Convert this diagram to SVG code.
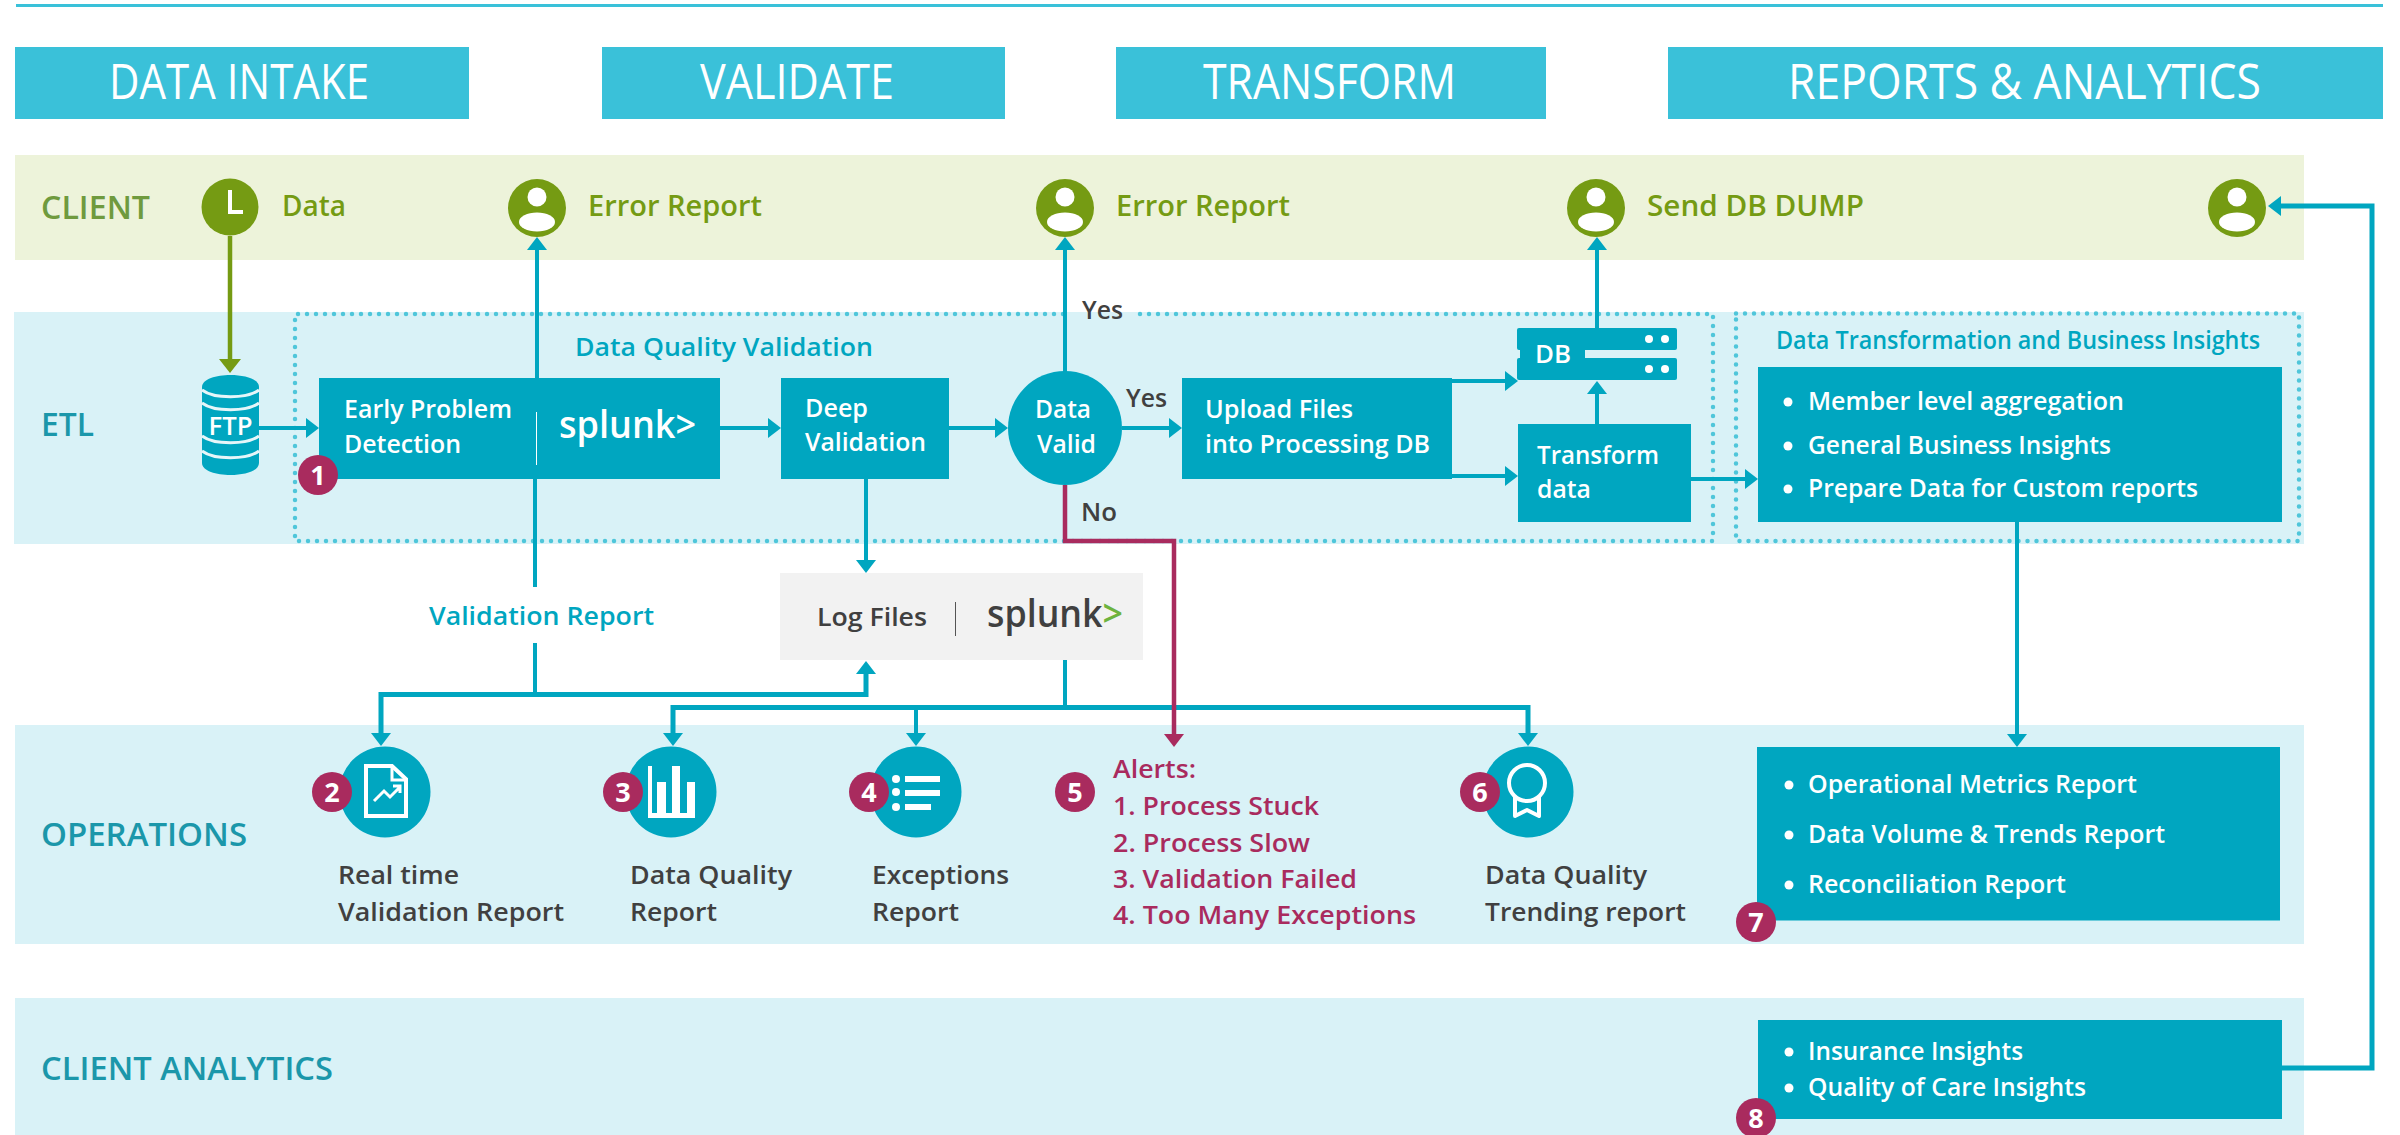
<svg xmlns="http://www.w3.org/2000/svg" width="2400" height="1135" viewBox="0 0 2400 1135">
<style>
text{font-family:"Open Sans","Noto Sans","Liberation Sans",sans-serif;font-weight:600}
.hd{fill:#3ac1d9}.hdt{fill:#fff;font-size:50px;font-weight:400}
.lab{font-size:32px;fill:#1b97aa}
.gl{font-size:29px;fill:#759b13}
.box{fill:#00a6c0}
.w{font-size:25px;fill:#fff}
.b{font-size:25px;fill:#fff}
.bul{fill:#fff}
.dk{font-size:25px;fill:#404040}
.ye{font-size:25px;fill:#404040}
.tl{font-size:26px;fill:#00a6c0}
.al{font-size:25px;fill:#a92b5e}
.bd{fill:#a92b5e}
.bn{font-size:27px;font-weight:700;fill:#fff;text-anchor:middle}
.sp{font-size:38px;font-weight:600}
.c{fill:none;stroke:#00a6c0;stroke-width:4}
.c5{fill:none;stroke:#00a6c0;stroke-width:5}
.dot{fill:none;stroke:#4fc6da;stroke-width:4.5;stroke-linecap:round;stroke-dasharray:0 9}
.ic{fill:none;stroke:#fff;stroke-width:4}
</style>
<defs>
<marker id="aT" markerUnits="userSpaceOnUse" markerWidth="14" markerHeight="20" refX="3" refY="10" orient="auto"><path d="M0 0L13 10L0 20Z" fill="#00a6c0"/></marker>
<marker id="aG" markerUnits="userSpaceOnUse" markerWidth="14" markerHeight="22" refX="3" refY="11" orient="auto"><path d="M0 0L14 11L0 22Z" fill="#759b13"/></marker>
<marker id="aR" markerUnits="userSpaceOnUse" markerWidth="14" markerHeight="20" refX="3" refY="10" orient="auto"><path d="M0 0L13 10L0 20Z" fill="#a92b5e"/></marker>
<g id="person"><circle r="29" fill="#759b13"/><circle cy="-11" r="9.500" fill="#fff"/><ellipse cy="14" rx="18" ry="9.500" fill="#fff"/></g>
</defs>

<rect x="16" y="4" width="2367" height="3" fill="#3ac1d9"/>

<g id="header-data-intake"><rect class="hd" x="15" y="47" width="454" height="72"/><text class="hdt" x="109" y="99" textLength="260" lengthAdjust="spacingAndGlyphs">DATA INTAKE</text></g>
<g id="header-validate"><rect class="hd" x="602" y="47" width="403" height="72"/><text class="hdt" x="700" y="99" textLength="194" lengthAdjust="spacingAndGlyphs">VALIDATE</text></g>
<g id="header-transform"><rect class="hd" x="1116" y="47" width="430" height="72"/><text class="hdt" x="1203" y="99" textLength="253" lengthAdjust="spacingAndGlyphs">TRANSFORM</text></g>
<g id="header-reports"><rect class="hd" x="1668" y="47" width="715" height="72"/><text class="hdt" x="1788" y="99" textLength="473" lengthAdjust="spacingAndGlyphs">REPORTS &amp; ANALYTICS</text></g>

<g id="band-client"><rect x="15" y="155" width="2289" height="105" fill="#edf3da"/><text class="lab" x="41" y="219" style="fill:#6f9a3e" textLength="109" lengthAdjust="spacingAndGlyphs">CLIENT</text></g>
<g id="band-etl"><rect x="14" y="312" width="2290" height="232" fill="#d9f2f7"/><text class="lab" x="41" y="436" textLength="53" lengthAdjust="spacingAndGlyphs">ETL</text></g>
<g id="band-operations"><rect x="15" y="725" width="2289" height="219" fill="#d9f2f7"/><text class="lab" x="41" y="846" textLength="206" lengthAdjust="spacingAndGlyphs">OPERATIONS</text></g>
<g id="band-client-analytics"><rect x="15" y="998" width="2289" height="137" fill="#d9f2f7"/><text class="lab" x="41" y="1080" textLength="292" lengthAdjust="spacingAndGlyphs">CLIENT ANALYTICS</text></g>

<g id="group-dq"><path class="dot" d="M1140 314H1713V541H295V314H1065"/><text class="tl" x="575" y="356" textLength="298" lengthAdjust="spacingAndGlyphs">Data Quality Validation</text></g>
<g id="group-dt"><path class="dot" d="M1736 313.500H2299V541H1736Z"/><text class="tl" x="1776" y="349" textLength="484" lengthAdjust="spacingAndGlyphs">Data Transformation and Business Insights</text></g>

<g id="connectors">
<path d="M230 236V362" fill="none" stroke="#759b13" stroke-width="4.500" marker-end="url(#aG)"/>
<path class="c" d="M259 428H309" marker-end="url(#aT)"/>
<path class="c" d="M537 378V247" marker-end="url(#aT)"/>
<path class="c" d="M720 428H771" marker-end="url(#aT)"/>
<path class="c" d="M949 428H998" marker-end="url(#aT)"/>
<path class="c" d="M1065 372V247" marker-end="url(#aT)"/>
<path class="c" d="M1122 428H1172" marker-end="url(#aT)"/>
<path class="c" d="M1452 381H1508" marker-end="url(#aT)"/>
<path class="c" d="M1452 476H1508" marker-end="url(#aT)"/>
<path class="c" d="M1597 424V391" marker-end="url(#aT)"/>
<path class="c" d="M1597 328V247" marker-end="url(#aT)"/>
<path class="c" d="M1691 479H1748" marker-end="url(#aT)"/>
<path class="c" d="M866 479V563" marker-end="url(#aT)"/>
<path class="c" d="M535 479V587"/>
<path class="c" d="M535 643V695"/>
<path class="c5" d="M535 694.500H381V736" marker-end="url(#aT)"/>
<path class="c5" d="M535 694.500H866V671" marker-end="url(#aT)"/>
<path class="c" d="M1065 660V707"/>
<path class="c5" d="M1065 707.500H673V736" marker-end="url(#aT)"/>
<path class="c5" d="M1065 707.500H1528V736" marker-end="url(#aT)"/>
<path class="c" d="M916 707V736" marker-end="url(#aT)"/>
<path d="M1065 485V541H1174V737" fill="none" stroke="#a92b5e" stroke-width="4.500" marker-end="url(#aR)"/>
<path class="c" d="M2017 522V737" marker-end="url(#aT)"/>
<path class="c5" d="M2282 1068H2372V206H2278" marker-end="url(#aT)"/>
</g>

<g id="clock"><circle cx="230" cy="207" r="28.500" fill="#759b13"/><path d="M230 190V212H243" fill="none" stroke="#fff" stroke-width="4"/></g>
<g id="data-label"><text class="gl" x="282" y="216" textLength="64" lengthAdjust="spacingAndGlyphs">Data</text></g>
<g id="client-1"><use href="#person" x="537" y="208"/><text class="gl" x="588" y="216" textLength="174" lengthAdjust="spacingAndGlyphs">Error Report</text></g>
<g id="client-2"><use href="#person" x="1065" y="208"/><text class="gl" x="1116" y="216" textLength="174" lengthAdjust="spacingAndGlyphs">Error Report</text></g>
<g id="client-3"><use href="#person" x="1596" y="208"/><text class="gl" x="1647" y="216" textLength="217" lengthAdjust="spacingAndGlyphs">Send DB DUMP</text></g>
<g id="client-4"><use href="#person" x="2237" y="208"/></g>

<g id="ftp">
<path class="box" d="M202 387C202 371 259 371 259 387V463C259 479 202 479 202 463Z"/>
<path d="M202 390C214 399 247 399 259 390M202 403C214 412 247 412 259 403M202 436C214 445 247 445 259 436M202 451C214 460 247 460 259 451" fill="none" stroke="#e6f6f9" stroke-width="3"/>
<text x="230.500" y="435" font-size="26" fill="#fff" text-anchor="middle" textLength="44" lengthAdjust="spacingAndGlyphs">FTP</text>
</g>

<g id="early"><rect class="box" x="319" y="378" width="401" height="101"/>
<text class="w" x="344" y="418" textLength="168" lengthAdjust="spacingAndGlyphs">Early Problem</text><text class="w" x="344" y="453" textLength="117" lengthAdjust="spacingAndGlyphs">Detection</text>
<rect x="536" y="412" width="1" height="53" fill="#fff"/>
<text class="sp" x="559" y="438" fill="#fff" textLength="137" lengthAdjust="spacingAndGlyphs">splunk&gt;</text></g>
<g id="deep"><rect class="box" x="781" y="378" width="168" height="101"/><text class="w" x="805" y="417" textLength="63" lengthAdjust="spacingAndGlyphs">Deep</text><text class="w" x="805" y="451" textLength="121" lengthAdjust="spacingAndGlyphs">Validation</text></g>
<g id="valid"><circle class="box" cx="1065" cy="428" r="57"/><text class="w" x="1035" y="418" textLength="56" lengthAdjust="spacingAndGlyphs">Data</text><text class="w" x="1037" y="453" textLength="59" lengthAdjust="spacingAndGlyphs">Valid</text></g>
<g id="yes-labels"><text class="ye" x="1082" y="319" textLength="41" lengthAdjust="spacingAndGlyphs">Yes</text><text class="ye" x="1126" y="407" textLength="41" lengthAdjust="spacingAndGlyphs">Yes</text><text class="ye" x="1081" y="521" textLength="36" lengthAdjust="spacingAndGlyphs">No</text></g>
<g id="upload"><rect class="box" x="1182" y="378" width="270" height="101"/><text class="w" x="1205" y="418" textLength="148" lengthAdjust="spacingAndGlyphs">Upload Files</text><text class="w" x="1205" y="453" textLength="225" lengthAdjust="spacingAndGlyphs">into Processing DB</text></g>
<g id="db"><rect class="box" x="1517" y="328" width="160" height="22" rx="2"/><rect class="box" x="1517" y="358" width="160" height="22" rx="2"/><rect class="box" x="1520" y="345" width="65" height="20"/>
<g class="bul"><circle cx="1649" cy="339" r="4"/><circle cx="1665" cy="339" r="4"/><circle cx="1649" cy="369" r="4"/><circle cx="1665" cy="369" r="4"/></g>
<text x="1535" y="363" font-size="25" fill="#fff" textLength="36" lengthAdjust="spacingAndGlyphs">DB</text></g>
<g id="transform"><rect class="box" x="1518" y="424" width="173" height="98"/><text class="w" x="1537" y="464" textLength="122" lengthAdjust="spacingAndGlyphs">Transform</text><text class="w" x="1537" y="498" textLength="54" lengthAdjust="spacingAndGlyphs">data</text></g>
<g id="insights"><rect class="box" x="1758" y="367" width="524" height="155"/>
<g class="bul"><circle cx="1788" cy="402" r="4.500"/><circle cx="1788" cy="446" r="4.500"/><circle cx="1788" cy="489" r="4.500"/></g>
<text class="b" x="1808" y="410" textLength="316" lengthAdjust="spacingAndGlyphs">Member level aggregation</text><text class="b" x="1808" y="454" textLength="303" lengthAdjust="spacingAndGlyphs">General Business Insights</text><text class="b" x="1808" y="497" textLength="390" lengthAdjust="spacingAndGlyphs">Prepare Data for Custom reports</text></g>

<g id="validation-report"><text class="tl" x="429" y="625" textLength="225" lengthAdjust="spacingAndGlyphs">Validation Report</text></g>
<g id="logs"><rect x="780" y="573" width="363" height="87" fill="#f2f2f2"/><text class="dk" x="817" y="626" textLength="110" lengthAdjust="spacingAndGlyphs">Log Files</text><rect x="955" y="602" width="1" height="34" fill="#555"/>
<text class="sp" x="987" y="627" fill="#404040" textLength="136" lengthAdjust="spacingAndGlyphs">splunk<tspan fill="#6db33f">&gt;</tspan></text></g>

<g id="r2"><circle class="box" cx="385" cy="792" r="45.500"/>
<path class="ic" d="M366 766H392L406 779V816H366Z"/><path d="M392 766V780H406" fill="none" stroke="#fff" stroke-width="3"/><path d="M374 801L384 791L390 797L400 787M393 786H400V793" fill="none" stroke="#fff" stroke-width="3"/>
<circle class="bd" cx="332" cy="792" r="20"/><text class="bn" x="332" y="802">2</text>
<text class="dk" x="338" y="884" textLength="121" lengthAdjust="spacingAndGlyphs">Real time</text><text class="dk" x="338" y="921" textLength="226" lengthAdjust="spacingAndGlyphs">Validation Report</text></g>
<g id="r3"><circle class="box" cx="671" cy="792" r="45.500"/>
<g class="bul"><rect x="648" y="766" width="4" height="52"/><rect x="657" y="782" width="9" height="36"/><rect x="672" y="766" width="8" height="52"/><rect x="687" y="782" width="8" height="36"/><rect x="648" y="813" width="47" height="5"/></g>
<circle class="bd" cx="623" cy="792" r="20"/><text class="bn" x="623" y="802">3</text>
<text class="dk" x="630" y="884" textLength="162" lengthAdjust="spacingAndGlyphs">Data Quality</text><text class="dk" x="630" y="921" textLength="87" lengthAdjust="spacingAndGlyphs">Report</text></g>
<g id="r4"><circle class="box" cx="916" cy="792" r="45.500"/>
<g class="bul"><circle cx="896" cy="779" r="4"/><circle cx="896" cy="792" r="4"/><circle cx="896" cy="807" r="4"/><rect x="905" y="776" width="35" height="6"/><rect x="905" y="790" width="35" height="6"/><rect x="905" y="804" width="26" height="6"/></g>
<circle class="bd" cx="869" cy="792" r="20"/><text class="bn" x="869" y="802">4</text>
<text class="dk" x="872" y="884" textLength="137" lengthAdjust="spacingAndGlyphs">Exceptions</text><text class="dk" x="872" y="921" textLength="87" lengthAdjust="spacingAndGlyphs">Report</text></g>
<g id="r5"><circle class="bd" cx="1075" cy="792" r="20"/><text class="bn" x="1075" y="802">5</text>
<text class="al" x="1113" y="778" textLength="83" lengthAdjust="spacingAndGlyphs">Alerts:</text><text class="al" x="1113" y="815" textLength="206" lengthAdjust="spacingAndGlyphs">1. Process Stuck</text><text class="al" x="1113" y="851.500" textLength="197" lengthAdjust="spacingAndGlyphs">2. Process Slow</text><text class="al" x="1113" y="887.500" textLength="244" lengthAdjust="spacingAndGlyphs">3. Validation Failed</text><text class="al" x="1113" y="924" textLength="303" lengthAdjust="spacingAndGlyphs">4. Too Many Exceptions</text></g>
<g id="r6"><circle class="box" cx="1528" cy="792" r="45.500"/>
<circle class="ic" cx="1527" cy="783" r="18"/><path d="M1515 797V816L1527 810L1539 816V797" fill="none" stroke="#fff" stroke-width="4" stroke-linejoin="round"/>
<circle class="bd" cx="1480" cy="792" r="20"/><text class="bn" x="1480" y="802">6</text>
<text class="dk" x="1485" y="884" textLength="162" lengthAdjust="spacingAndGlyphs">Data Quality</text><text class="dk" x="1485" y="921" textLength="201" lengthAdjust="spacingAndGlyphs">Trending report</text></g>
<g id="r7"><rect class="box" x="1757" y="747" width="523" height="173.500"/>
<g class="bul"><circle cx="1789" cy="785" r="4.500"/><circle cx="1789" cy="835" r="4.500"/><circle cx="1789" cy="885" r="4.500"/></g>
<text class="b" x="1808" y="793" textLength="329" lengthAdjust="spacingAndGlyphs">Operational Metrics Report</text><text class="b" x="1808" y="843" textLength="357" lengthAdjust="spacingAndGlyphs">Data Volume &amp; Trends Report</text><text class="b" x="1808" y="892.500" textLength="258" lengthAdjust="spacingAndGlyphs">Reconciliation Report</text>
<circle class="bd" cx="1756" cy="922" r="20"/><text class="bn" x="1756" y="932">7</text></g>
<g id="r8"><rect class="box" x="1758" y="1020" width="524" height="99"/>
<g class="bul"><circle cx="1789" cy="1052" r="4.500"/><circle cx="1789" cy="1088" r="4.500"/></g>
<text class="b" x="1808" y="1059.500" textLength="215" lengthAdjust="spacingAndGlyphs">Insurance Insights</text><text class="b" x="1808" y="1096" textLength="278" lengthAdjust="spacingAndGlyphs">Quality of Care Insights</text>
<circle class="bd" cx="1756" cy="1118" r="20"/><text class="bn" x="1756" y="1128">8</text></g>
<g id="badge-1"><circle class="bd" cx="318" cy="475" r="20"/><text class="bn" x="318" y="485">1</text></g>
</svg>
